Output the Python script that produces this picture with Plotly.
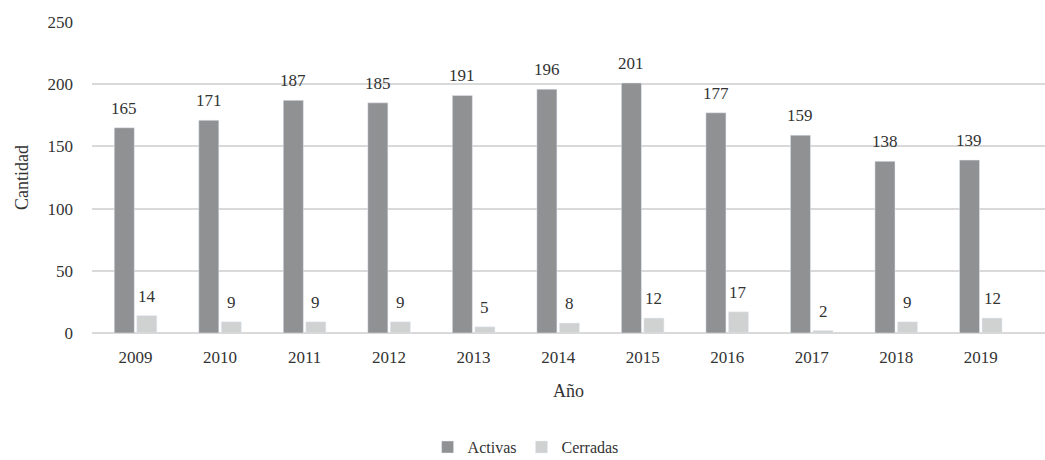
import plotly.graph_objects as go

years = ["2009", "2010", "2011", "2012", "2013", "2014", "2015", "2016", "2017", "2018", "2019"]
activas = [165, 171, 187, 185, 191, 196, 201, 177, 159, 138, 139]
cerradas = [14, 9, 9, 9, 5, 8, 12, 17, 2, 9, 12]
y_ticks = [0, 50, 100, 150, 200, 250]

FONT = "Liberation Serif"
TXT = "#333333"
C_ACT = "#8f9192"
C_CER = "#d0d1d1"

fig = go.Figure()
fig.add_trace(go.Bar(x=years, y=activas, name="Activas", marker_color=C_ACT))
fig.add_trace(go.Bar(x=years, y=cerradas, name="Cerradas", marker_color=C_CER))

annotations = []
for i, (a, c) in enumerate(zip(activas, cerradas)):
    annotations.append(dict(x=i - 0.1335, y=a, text=str(a), showarrow=False,
                            xref="x", yref="y", yanchor="bottom", yshift=8,
                            font=dict(family=FONT, size=17, color=TXT)))
    annotations.append(dict(x=i + 0.1335, y=c, text=str(c), showarrow=False,
                            xref="x", yref="y", yanchor="bottom", yshift=8,
                            font=dict(family=FONT, size=17, color=TXT)))

fig.update_layout(
    width=1045, height=460,
    margin=dict(l=92, r=0, t=22, b=127, autoexpand=False),
    paper_bgcolor="white", plot_bgcolor="white",
    barmode="group", bargap=0.467, bargroupgap=0.11,
    font=dict(family=FONT, size=17, color=TXT),
    annotations=annotations,
    showlegend=True,
    legend=dict(orientation="h", x=0.455, xanchor="center",
                yref="container", y=0.028, yanchor="middle",
                font=dict(family=FONT, size=16, color=TXT), itemwidth=30,
                traceorder="normal", borderwidth=0),
    xaxis=dict(type="category", range=[-0.515, 10.76], showgrid=False,
               showline=False, ticks="", ticklabelstandoff=12,
               tickfont=dict(family=FONT, size=17, color=TXT),
               title=dict(text="Año", standoff=18,
                          font=dict(family=FONT, size=18, color=TXT))),
    yaxis=dict(range=[0, 250], tickvals=y_ticks, showgrid=True,
               gridcolor="#d9d9d9", gridwidth=1.5, zeroline=True,
               zerolinecolor="#d9d9d9", zerolinewidth=1.5, showline=False,
               ticks="", ticklabelstandoff=18,
               tickfont=dict(family=FONT, size=17, color=TXT),
               title=dict(text="Cantidad", standoff=14,
                          font=dict(family=FONT, size=18, color=TXT))),
)

fig.write_html("out.html")
